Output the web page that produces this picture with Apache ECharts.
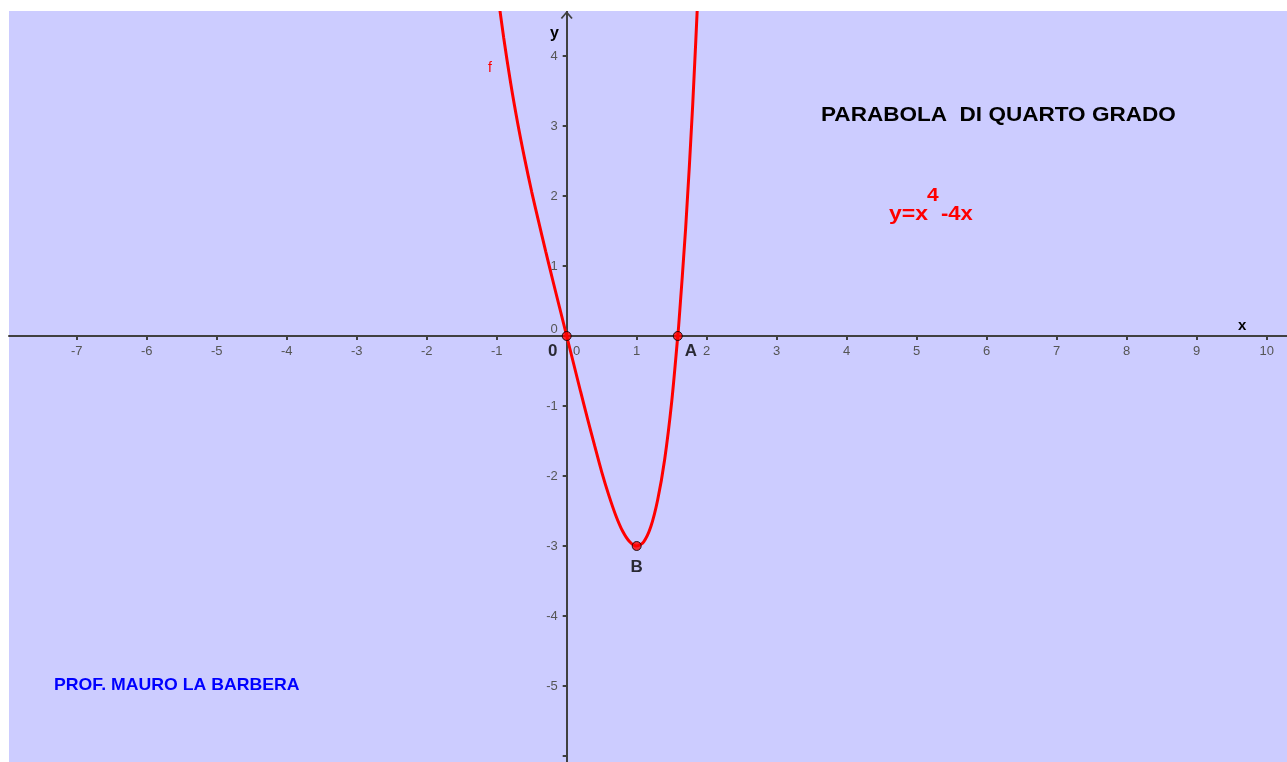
<!DOCTYPE html>
<html>
<head>
<meta charset="utf-8">
<title>Parabola di quarto grado</title>
<script src="https://cdn.jsdelivr.net/npm/echarts@6/dist/echarts.min.js"></script>
<style>
  html, body { margin: 0; padding: 0; background: #ffffff; }
  #chart { width: 1287px; height: 762px; }
</style>
</head>
<body>
<div id="chart"></div>
<script>
// Curve f: y = x^4 - 4x, sampled points (x, y)
const curveX = [-1.0, -0.9, -0.8, -0.7, -0.6, -0.5, -0.4, -0.3, -0.2, -0.1, 0.0,
                 0.1, 0.2, 0.3, 0.4, 0.5, 0.6, 0.7, 0.8, 0.9, 1.0,
                 1.1, 1.2, 1.3, 1.4, 1.5, 1.587, 1.6, 1.7, 1.8, 1.9];
const curveY = [5.00, 4.26, 3.61, 3.04, 2.53, 2.06, 1.63, 1.21, 0.80, 0.40, 0.00,
                -0.40, -0.80, -1.19, -1.57, -1.94, -2.27, -2.56, -2.79, -2.94, -3.00,
                -2.94, -2.73, -2.34, -1.76, -0.94, 0.00, 0.15, 1.55, 3.30, 5.43];

// Notable points: origin, zero A, minimum B
const pointNames = ['0', 'A', 'B'];
const pointX = [0, 1.587, 1];
const pointY = [0, 0, -3];

// Tick values
const xTicks = [-7, -6, -5, -4, -3, -2, -1, 0, 1, 2, 3, 4, 5, 6, 7, 8, 9, 10];
const yTicks = [-6, -5, -4, -3, -2, -1, 0, 1, 2, 3, 4];
const yLabelTicks = [-5, -4, -3, -2, -1, 0, 1, 2, 3, 4];

// Visible window of the plane
const xMin = -7.967, xMax = 10.29;
const yMin = -6.086, yMax = 4.643;

const W = 1287, H = 762;
const gridLeft = 9, gridTop = 11;
const plotW = W - gridLeft, plotH = H - gridTop;

// Axes cross at the origin: shift them from the grid edges to x = 0 / y = 0
const xAxisShift = -plotH * (0 - yMin) / (yMax - yMin);
const yAxisShift = -plotW * (0 - xMin) / (xMax - xMin);

const axisColor = '#404040';
const labelColor = '#555555';
const fontFamily = '"Liberation Sans", Arial, sans-serif';

const curveData = curveX.map((x, i) => [x, curveY[i]]);
const pointOffsets = [[-14, 15], [13, 15], [0, 21]];
const pointData = pointNames.map((n, i) => ({
  name: n,
  value: [pointX[i], pointY[i]],
  label: { offset: pointOffsets[i] }
}));

const chart = echarts.init(document.getElementById('chart'));
chart.setOption({
  animation: false,
  backgroundColor: '#ffffff',
  grid: {
    left: gridLeft, top: gridTop, right: 0, bottom: 0,
    show: true, backgroundColor: '#CCCCFF', borderWidth: 0,
    containLabel: false,
    outerBoundsMode: 'none'
  },
  xAxis: {
    type: 'value',
    min: xMin, max: xMax,
    position: 'bottom',
    offset: xAxisShift,
    splitLine: { show: false },
    axisLine: { onZero: false, lineStyle: { color: axisColor, width: 2 } },
    axisTick: { show: true, length: 4, lineStyle: { color: axisColor, width: 2 }, customValues: xTicks },
    axisLabel: {
      customValues: xTicks,
      margin: 9,
      color: labelColor, fontSize: 13, fontFamily: fontFamily,
      formatter: v => (v === 0 ? '{z|0}' : String(v)),
      rich: { z: { color: labelColor, fontSize: 13, fontFamily: fontFamily, padding: [0, 0, 0, 20] } }
    }
  },
  yAxis: {
    type: 'value',
    min: yMin, max: yMax,
    position: 'left',
    offset: yAxisShift,
    splitLine: { show: false },
    axisLine: {
      onZero: false,
      symbol: ['none', 'path://M0,7 L6,0 L12,7 L10.6,8 L6,2.6 L1.4,8 Z'],
      symbolSize: [12, 8],
      symbolOffset: [0, -4],
      lineStyle: { color: axisColor, width: 2 }
    },
    axisTick: { show: true, length: 4, lineStyle: { color: axisColor, width: 2 }, customValues: yTicks },
    axisLabel: {
      customValues: yLabelTicks,
      margin: 9,
      color: labelColor, fontSize: 13, fontFamily: fontFamily,
      formatter: v => (v === 0 ? '{z|0}' : String(v)),
      rich: { z: { color: labelColor, fontSize: 13, fontFamily: fontFamily, padding: [0, 0, 14, 0] } }
    }
  },
  series: [
    {
      name: 'f',
      type: 'line',
      data: curveData,
      smooth: 0.3,
      showSymbol: false,
      clip: true,
      lineStyle: { color: '#FF0000', width: 3 },
      z: 3
    },
    {
      type: 'scatter',
      data: pointData,
      symbolSize: 9,
      itemStyle: { color: '#FF0000', borderColor: '#000000', borderWidth: 1 },
      label: {
        show: true,
        formatter: p => p.name,
        position: 'inside',
        color: '#000000', fontSize: 17, fontWeight: 'bold', fontFamily: fontFamily
      },
      z: 4
    }
  ],
  graphic: [
    // white page margin above the plotting plane
    { type: 'rect', left: 0, top: 0, z: 100, shape: { width: W, height: gridTop }, style: { fill: '#ffffff' } },
    { type: 'text', left: 1238, top: 318, style: { text: 'x', fill: '#000', font: 'bold 15px "Liberation Sans", Arial, sans-serif' } },
    { type: 'text', left: 550, top: 26, style: { text: 'y', fill: '#000', font: 'bold 16px "Liberation Sans", Arial, sans-serif' } },
    { type: 'text', left: 488, top: 61, style: { text: 'f', fill: '#FF0000', font: '14px "Liberation Sans", Arial, sans-serif' } },
    { type: 'text', x: 821, y: 105, scaleX: 1.127, style: { text: 'PARABOLA  DI QUARTO GRADO', fill: '#000', font: 'bold 20px "Liberation Sans", Arial, sans-serif' } },
    { type: 'text', x: 889, y: 204, scaleX: 1.15, style: { text: 'y=x', fill: '#FF0000', font: 'bold 20px "Liberation Sans", Arial, sans-serif' } },
    { type: 'text', x: 927, y: 186, scaleX: 1.1, style: { text: '4', fill: '#FF0000', font: 'bold 19px "Liberation Sans", Arial, sans-serif' } },
    { type: 'text', x: 941, y: 204, scaleX: 1.1, style: { text: '-4x', fill: '#FF0000', font: 'bold 20px "Liberation Sans", Arial, sans-serif' } },
    { type: 'text', x: 54, y: 677, scaleX: 1.04, style: { text: 'PROF. MAURO LA BARBERA', fill: '#0000FF', font: 'bold 17px "Liberation Sans", Arial, sans-serif' } }
  ]
});
</script>
</body>
</html>
